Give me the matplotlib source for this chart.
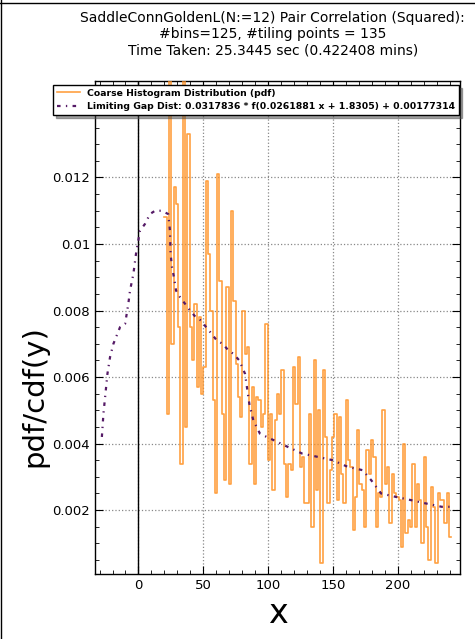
import numpy as np
import matplotlib
matplotlib.use("Agg")
import matplotlib.pyplot as plt
from matplotlib.lines import Line2D
from matplotlib.ticker import MultipleLocator

# ---------------- data ----------------
hist_start = 20.0
hist_end = 241.3
hist_values = [
    0.0108, 0.0049, 0.0170, 0.0070, 0.0117, 0.0112, 0.0075, 0.0034, 0.0165, 0.0045,
    0.0133, 0.0075, 0.0065, 0.0082, 0.0057, 0.0078, 0.0055, 0.0063, 0.0119, 0.0097,
    0.0080, 0.0053, 0.0025, 0.0121, 0.0089, 0.0049, 0.0029, 0.0087, 0.0028, 0.0110,
    0.0083, 0.0064, 0.0054, 0.0048, 0.0080, 0.0067, 0.0069, 0.0034, 0.0057, 0.0028,
    0.0054, 0.0053, 0.0045, 0.0049, 0.0076, 0.0035, 0.0049, 0.0026, 0.0047, 0.0055,
    0.0049, 0.0062, 0.0034, 0.0024, 0.0034, 0.0032, 0.0063, 0.0052, 0.0066, 0.0033,
    0.0036, 0.0022, 0.0022, 0.0049, 0.0015, 0.0065, 0.0026, 0.0050, 0.0004, 0.0062,
    0.0042, 0.0022, 0.0032, 0.0042, 0.0049, 0.0023, 0.0048, 0.0031, 0.0022, 0.0053,
    0.0035, 0.0033, 0.0014, 0.0024, 0.0044, 0.0028, 0.0026, 0.0015, 0.0038, 0.0031,
    0.0041, 0.0036, 0.0015, 0.0025, 0.0024, 0.0050, 0.0028, 0.0033, 0.0016, 0.0031,
    0.0025, 0.0024, 0.0023, 0.0009, 0.0040, 0.0013, 0.0017, 0.0015, 0.0034, 0.0015,
    0.0028, 0.0023, 0.0010, 0.0036, 0.0015, 0.0005, 0.0027, 0.0021, 0.0004, 0.0025,
    0.0023, 0.0023, 0.0016, 0.0025, 0.0012,
]

curve_x = [-28.2, -27, -25.7, -23.9, -21.9, -19.3, -14.2, -10.3, -7.8, -6.5, -3.9, -1.9,
           1.2, 5, 8.9, 12.8, 17.9, 23, 24.3, 24.8, 25.9, 27.4, 29, 32.1, 36, 39.8, 44.2,
           48.3, 52.2, 56.5, 60.4, 65, 69.4, 73.2, 77.8, 82.2, 85.5, 88.6, 93.7, 98.9,
           104.5, 115.2, 126.3, 138.4, 149.9, 161.5, 173, 179.5, 187.2, 198.3, 210.3,
           221.8, 233.9, 240]
curve_y = [0.0042, 0.0049, 0.0054, 0.0061, 0.0066, 0.0070, 0.0075, 0.0076, 0.0082, 0.0086,
           0.0091, 0.0097, 0.0104, 0.0106, 0.0109, 0.0110, 0.0110, 0.0109, 0.0104, 0.0097,
           0.0093, 0.0090, 0.0086, 0.0084, 0.0082, 0.0080, 0.0078, 0.0077, 0.0075, 0.0073,
           0.0071, 0.0070, 0.0068, 0.0067, 0.0065, 0.0061, 0.0052, 0.0047, 0.0043, 0.0042,
           0.0041, 0.0039, 0.0037, 0.0036, 0.0035, 0.0033, 0.0032, 0.0029, 0.0025, 0.0024,
           0.0023, 0.0022, 0.0021, 0.0021]

x_ticks = [0, 50, 100, 150, 200]
y_ticks = [0.002, 0.004, 0.006, 0.008, 0.01, 0.012, 0.014]
y_tick_labels = ["0.002", "0.004", "0.006", "0.008", "0.01", "0.012", "0.014"]

title = ("SaddleConnGoldenL(N:=12) Pair Correlation (Squared):\n"
         "#bins=125, #tiling points = 135\n"
         "Time Taken: 25.3445 sec (0.422408 mins)")
hist_label = "Coarse Histogram Distribution (pdf)"
curve_label = "Limiting Gap Dist: 0.0317836 * f(0.0261881 x + 1.8305) + 0.00177314"

# ---------------- figure ----------------
plt.rcParams['font.family'] = ['DejaVu Sans']
fig = plt.figure(figsize=(4.75, 6.39), dpi=100)
ax = fig.add_axes([95/475, 1 - 574/639, (460 - 95)/475, (574 - 81)/639])

edges = np.linspace(hist_start, hist_end, len(hist_values) + 1)
vals = np.asarray(hist_values)
ax.plot(edges, np.append(vals, vals[-1]), drawstyle='steps-post',
        color='#ff9020', lw=1.2, alpha=0.85, label=hist_label, zorder=3)
ax.plot(curve_x, curve_y, color='#551a66', lw=1.6,
        linestyle=(0, (1.6, 2.4, 0.6, 2.4)), label=curve_label, zorder=4)

ax.axvline(0, color='black', lw=1.0, zorder=2)

ax.set_xlim(-33.5, 248)
ax.set_ylim(0.00008, 0.0149)
ax.set_xticks(x_ticks)
ax.set_yticks(y_ticks)
ax.set_yticklabels(y_tick_labels)
ax.xaxis.set_minor_locator(MultipleLocator(10))
ax.yaxis.set_minor_locator(MultipleLocator(0.0005))
ax.tick_params(which='both', direction='in', top=True, right=True, labelsize=9.5)
ax.tick_params(which='major', length=6, width=0.8)
ax.tick_params(which='minor', length=3, width=0.6)
ax.grid(True, which='major', linestyle=':', color='#888888', lw=0.9)
for s in ax.spines.values():
    s.set_linewidth(1.0)

ax.set_xlabel("x", fontsize=24)
ax.set_ylabel("pdf/cdf(y)", fontsize=21)
ax.yaxis.set_label_coords(-0.128, 0.36)
t = ax.set_title(title, fontsize=10, pad=19)
t.set_x(0.487)

leg = ax.legend(loc='upper left', bbox_to_anchor=(53/475, 1 - 85/639),
                bbox_transform=fig.transFigure, prop={'weight': 'bold', 'size': 6.7},
                frameon=True, fancybox=False, shadow=True, borderaxespad=0,
                handlelength=2.5)
leg.get_frame().set_edgecolor('black')
leg.get_frame().set_linewidth(1.0)
leg.set_zorder(10)

# figure border (top and left)
fig.add_artist(Line2D([0.002, 0.002], [0, 1], transform=fig.transFigure, color='black', lw=1))
fig.add_artist(Line2D([0, 1], [0.996, 0.996], transform=fig.transFigure, color='black', lw=1))

fig.savefig("out.png", dpi=100)
